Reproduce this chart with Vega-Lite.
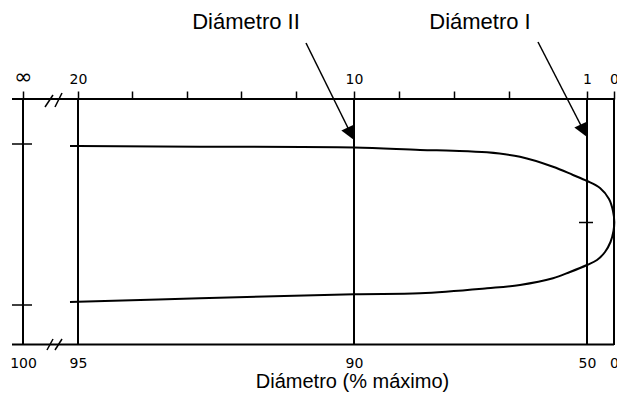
{
  "$schema": "https://vega.github.io/schema/vega-lite/v6.json",
  "width": 592,
  "height": 246,
  "autosize": "none",
  "padding": {"left": 22, "top": 99, "right": 3, "bottom": 51},
  "background": "white",
  "config": {"view": {"stroke": null}},
  "datasets": {
    "caja": [
      {"x": 1, "y": -123, "x2": 1, "y2": 123},
      {"x": 56, "y": -123, "x2": 56, "y2": 123},
      {"x": 332, "y": -123, "x2": 332, "y2": 123},
      {"x": 565, "y": -123, "x2": 565, "y2": 123},
      {"x": 592, "y": -123, "x2": 592, "y2": 123},
      {"x": -10, "y": 123, "x2": 592, "y2": 123},
      {"x": -10, "y": -122.5, "x2": 592, "y2": -122.5}
    ],
    "finos": [
      {"x": -10, "y": 78, "x2": 10, "y2": 78},
      {"x": -10, "y": -83, "x2": 10, "y2": -83},
      {"x": 557, "y": -0.5, "x2": 571, "y2": -0.5},
      {"x": 23, "y": 115, "x2": 31, "y2": 127},
      {"x": 33, "y": 115, "x2": 40, "y2": 129},
      {"x": 25, "y": -128, "x2": 31, "y2": -117},
      {"x": 33, "y": -128, "x2": 40, "y2": -117},
      {"x": 284, "y": 179, "x2": 327, "y2": 92},
      {"x": 516, "y": 180, "x2": 560, "y2": 94.5}
    ],
    "perfil": [
      {"i": 0, "x": 48, "y": 76},
      {"i": 1, "x": 56, "y": 76},
      {"i": 2, "x": 178, "y": 75.3},
      {"i": 3, "x": 332, "y": 74.5},
      {"i": 4, "x": 398, "y": 72},
      {"i": 5, "x": 431, "y": 71.3},
      {"i": 6, "x": 465, "y": 69.7},
      {"i": 7, "x": 498, "y": 65.3},
      {"i": 8, "x": 531, "y": 55.3},
      {"i": 9, "x": 551, "y": 47},
      {"i": 10, "x": 565, "y": 41},
      {"i": 11, "x": 578, "y": 34},
      {"i": 12, "x": 587, "y": 23},
      {"i": 13, "x": 591, "y": 11},
      {"i": 14, "x": 592.3, "y": 0},
      {"i": 15, "x": 591.5, "y": -9},
      {"i": 16, "x": 588.5, "y": -20},
      {"i": 17, "x": 583, "y": -30},
      {"i": 18, "x": 575, "y": -38},
      {"i": 19, "x": 565, "y": -43},
      {"i": 20, "x": 548, "y": -50},
      {"i": 21, "x": 531, "y": -56.3},
      {"i": 22, "x": 498, "y": -63},
      {"i": 23, "x": 465, "y": -66.3},
      {"i": 24, "x": 398, "y": -71.3},
      {"i": 25, "x": 332, "y": -72.3},
      {"i": 26, "x": 178, "y": -76.3},
      {"i": 27, "x": 56, "y": -79.7},
      {"i": 28, "x": 48, "y": -80}
    ],
    "puntas": [
      {"x": 332, "y": 82},
      {"x": 565, "y": 85}
    ],
    "rotulos": [
      {"x": 224, "y": 193, "texto": "Diámetro II"},
      {"x": 458, "y": 193, "texto": "Diámetro I"}
    ]
  },
  "resolve": {"axis": {"x": "independent", "y": "independent"}},
  "layer": [
    {
      "data": {"name": "caja"},
      "mark": {"type": "rule", "color": "black", "strokeWidth": 2},
      "encoding": {
        "x": {
          "field": "x", "type": "quantitative",
          "scale": {"domain": [0, 592], "nice": false, "zero": false},
          "axis": {
            "orient": "top",
            "values": [1, 56, 110, 165, 219, 274, 332, 377, 432, 487, 565, 592],
            "domain": false, "grid": false,
            "ticks": true, "tickSize": 8, "tickWidth": 1.5, "tickColor": "black",
            "labelExpr": "datum.value == 1 ? '∞' : datum.value == 56 ? '20' : datum.value == 332 ? '10' : datum.value == 565 ? '1' : datum.value == 592 ? '0' : ''",
            "labelFont": "DejaVu Sans",
            "labelFontSize": {"condition": {"test": "datum.value == 1", "value": 22}, "value": 14},
            "labelColor": "black",
            "labelBaseline": "alphabetic", "labelPadding": 8,
            "labelOverlap": false, "labelBound": false, "labelFlush": false,
            "title": null
          }
        },
        "y": {
          "field": "y", "type": "quantitative",
          "scale": {"domain": [-123, 123], "nice": false, "zero": false},
          "axis": null
        },
        "x2": {"field": "x2"},
        "y2": {"field": "y2"}
      }
    },
    {
      "data": {"name": "finos"},
      "mark": {"type": "rule", "color": "black", "strokeWidth": 1.5},
      "encoding": {
        "x": {"field": "x", "type": "quantitative", "axis": null},
        "y": {"field": "y", "type": "quantitative", "axis": null},
        "x2": {"field": "x2"},
        "y2": {"field": "y2"}
      }
    },
    {
      "data": {"name": "perfil"},
      "mark": {"type": "line", "color": "black", "strokeWidth": 2, "interpolate": "catmull-rom"},
      "encoding": {
        "x": {
          "field": "x", "type": "quantitative",
          "axis": {
            "orient": "bottom",
            "values": [1, 56, 332, 565, 592],
            "domain": false, "grid": false, "ticks": false, "tickSize": 0,
            "labelExpr": "datum.value == 1 ? '100' : datum.value == 56 ? '95' : datum.value == 332 ? '90' : datum.value == 565 ? '50' : '0'",
            "labelFont": "DejaVu Sans", "labelFontSize": 14, "labelColor": "black",
            "labelBaseline": "alphabetic", "labelPadding": 22,
            "labelOverlap": false, "labelBound": false, "labelFlush": false,
            "title": "Diámetro (% máximo)",
            "titleFont": "Liberation Sans", "titleFontSize": 20, "titleFontWeight": "normal",
            "titleColor": "black", "titleX": 330, "titleY": 42,
            "titleAlign": "center", "titleBaseline": "alphabetic"
          }
        },
        "y": {"field": "y", "type": "quantitative", "axis": null},
        "order": {"field": "i", "type": "quantitative"}
      }
    },
    {
      "data": {"name": "puntas"},
      "mark": {"type": "point", "shape": "M0,0 L-0.8,-0.6 L0.05,-1 Z", "filled": true, "color": "black", "opacity": 1, "size": 1000, "strokeWidth": 0},
      "encoding": {
        "x": {"field": "x", "type": "quantitative", "axis": null},
        "y": {"field": "y", "type": "quantitative", "axis": null}
      }
    },
    {
      "data": {"name": "rotulos"},
      "mark": {"type": "text", "font": "Liberation Sans", "fontSize": 22, "align": "center", "baseline": "alphabetic", "color": "black"},
      "encoding": {
        "x": {"field": "x", "type": "quantitative", "axis": null},
        "y": {"field": "y", "type": "quantitative", "axis": null},
        "text": {"field": "texto"}
      }
    }
  ]
}
